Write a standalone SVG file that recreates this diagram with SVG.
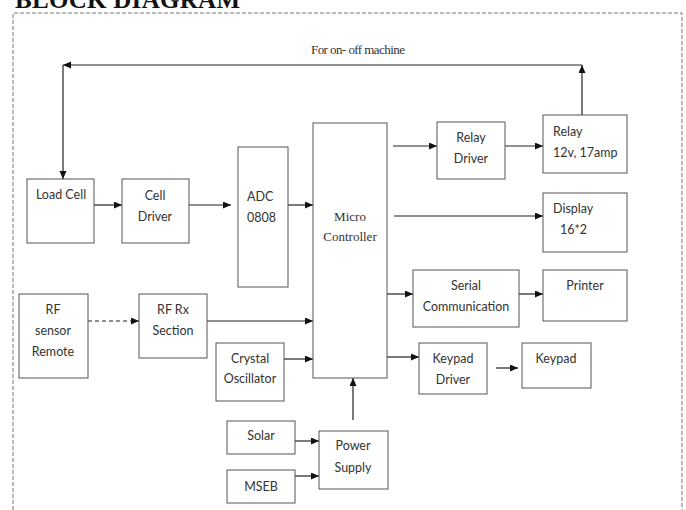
<svg xmlns="http://www.w3.org/2000/svg" width="686" height="510" viewBox="0 0 686 510">
<style>
.box{fill:#fff;stroke:#555;stroke-width:1}
.t{font-family:Lato,"Open Sans","Liberation Sans",sans-serif;font-size:12.5px;fill:#333;text-anchor:middle}
.ts{font-family:"Liberation Serif","Times New Roman",serif;font-size:13px;fill:#333;text-anchor:middle}
.l{text-anchor:start}
.c{stroke:#222;stroke-width:1.2;fill:none}
</style>
<defs>
<marker id="ah" markerUnits="userSpaceOnUse" markerWidth="9" markerHeight="8" refX="8" refY="3.5" orient="auto">
<path d="M0,0 L8,3.5 L0,7 z" fill="#111"/>
</marker>
</defs>
<rect width="686" height="510" fill="#fff"/>
<text x="15" y="8" font-family="'Liberation Serif','Times New Roman',serif" font-weight="bold" font-size="25" textLength="225" fill="#111">BLOCK DIAGRAM</text>
<path d="M13,510 V13 H682 V510" fill="none" stroke="#777" stroke-width="1" stroke-dasharray="4,2"/>
<text class="ts" x="358" y="54" font-size="12" textLength="94">For on- off machine</text>

<g id="connectors">
<line class="c" x1="582" y1="115" x2="582" y2="65" marker-end="url(#ah)"/>
<line class="c" x1="582" y1="65" x2="63" y2="65" marker-end="url(#ah)"/>
<line class="c" x1="63" y1="65" x2="63" y2="179" marker-end="url(#ah)"/>
<line class="c" x1="94" y1="205" x2="122" y2="205" marker-end="url(#ah)"/>
<line class="c" x1="189" y1="205" x2="231" y2="205" marker-end="url(#ah)"/>
<line class="c" x1="288" y1="205" x2="313" y2="205" marker-end="url(#ah)"/>
<line class="c" x1="393" y1="146" x2="437" y2="146" marker-end="url(#ah)"/>
<line class="c" x1="505" y1="146" x2="543" y2="146" marker-end="url(#ah)"/>
<line class="c" x1="394" y1="216" x2="543" y2="216" marker-end="url(#ah)"/>
<line class="c" x1="387" y1="294" x2="413" y2="294" marker-end="url(#ah)"/>
<line class="c" x1="519" y1="294" x2="543" y2="294" marker-end="url(#ah)"/>
<line class="c" x1="387" y1="357" x2="419" y2="357" marker-end="url(#ah)"/>
<line class="c" x1="496" y1="368" x2="518" y2="368" marker-end="url(#ah)"/>
<line class="c" x1="88" y1="321" x2="139" y2="321" stroke-dasharray="4,3" marker-end="url(#ah)"/>
<line class="c" x1="207" y1="321" x2="313" y2="321" marker-end="url(#ah)"/>
<line class="c" x1="284" y1="359" x2="313" y2="359" marker-end="url(#ah)"/>
<line class="c" x1="295" y1="441" x2="319" y2="441" marker-end="url(#ah)"/>
<line class="c" x1="295" y1="476" x2="319" y2="476" marker-end="url(#ah)"/>
<line class="c" x1="353" y1="420" x2="353" y2="378" marker-end="url(#ah)"/>
</g>

<g id="load-cell"><rect class="box" x="27" y="179" width="67" height="64"/><text class="t" x="61" y="199">Load Cell</text></g>
<g id="cell-driver"><rect class="box" x="122" y="179" width="67" height="64"/><text class="t" x="155" y="200">Cell</text><text class="t" x="155" y="221">Driver</text></g>
<g id="adc"><rect class="box" x="238" y="147" width="50" height="140"/><text class="t l" x="247" y="201">ADC</text><text class="t l" x="247" y="222">0808</text></g>
<g id="micro"><rect class="box" x="313" y="123" width="74" height="255"/><text class="ts" x="350" y="221">Micro</text><text class="ts" x="350" y="241">Controller</text></g>
<g id="relay-driver"><rect class="box" x="437" y="122" width="68" height="57"/><text class="t" x="471" y="142">Relay</text><text class="t" x="471" y="163">Driver</text></g>
<g id="relay"><rect class="box" x="543" y="115" width="84" height="58"/><text class="t l" x="553" y="136">Relay</text><text class="t l" x="553" y="157">12v, 17amp</text></g>
<g id="display"><rect class="box" x="543" y="193" width="84" height="59"/><text class="t l" x="553" y="213">Display</text><text class="t l" x="560" y="234">16*2</text></g>
<g id="serial"><rect class="box" x="413" y="270" width="106" height="57"/><text class="t" x="466" y="290">Serial</text><text class="t" x="466" y="311">Communication</text></g>
<g id="printer"><rect class="box" x="543" y="270" width="84" height="51"/><text class="t" x="585" y="290">Printer</text></g>
<g id="keypad-driver"><rect class="box" x="419" y="343" width="68" height="51"/><text class="t" x="453" y="363">Keypad</text><text class="t" x="453" y="384">Driver</text></g>
<g id="keypad"><rect class="box" x="522" y="343" width="69" height="45"/><text class="t" x="556" y="363">Keypad</text></g>
<g id="rf-remote"><rect class="box" x="19" y="294" width="69" height="84"/><text class="t" x="53" y="314">RF</text><text class="t" x="53" y="335">sensor</text><text class="t" x="53" y="356">Remote</text></g>
<g id="rf-rx"><rect class="box" x="139" y="294" width="68" height="64"/><text class="t" x="173" y="314">RF Rx</text><text class="t" x="173" y="335">Section</text></g>
<g id="crystal"><rect class="box" x="216" y="343" width="68" height="58"/><text class="t" x="250" y="363">Crystal</text><text class="t" x="250" y="383">Oscillator</text></g>
<g id="solar"><rect class="box" x="227" y="421" width="68" height="33"/><text class="t" x="261" y="440">Solar</text></g>
<g id="mseb"><rect class="box" x="227" y="470" width="68" height="33"/><text class="t" x="261" y="491">MSEB</text></g>
<g id="power"><rect class="box" x="319" y="431" width="69" height="58"/><text class="t" x="353" y="450">Power</text><text class="t" x="353" y="472">Supply</text></g>
</svg>
